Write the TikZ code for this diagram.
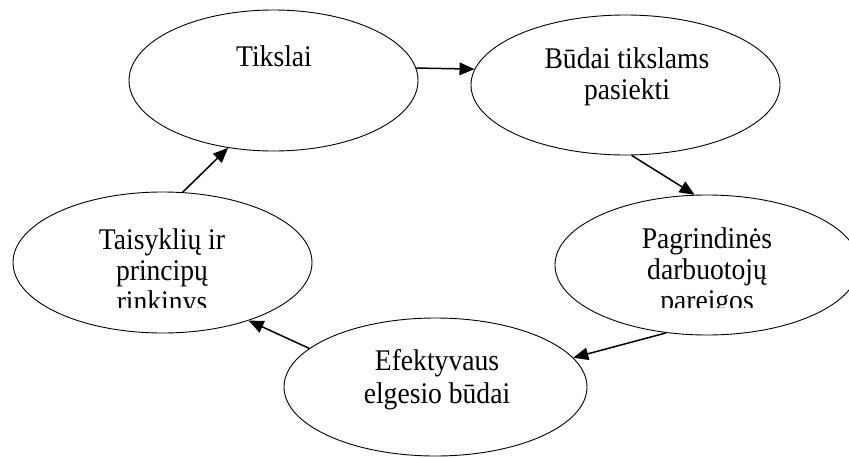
\documentclass[tikz,border=0pt]{standalone}
\usepackage{fontspec}
\setmainfont{Liberation Serif}[FakeStretch=0.92]
\usetikzlibrary{shapes.geometric,arrows.meta}
\begin{document}
\begin{tikzpicture}[x=1pt,y=-1pt,
  oval/.style n args={2}{draw, ellipse, line width=0.9pt, inner sep=0pt, minimum width=#1, minimum height=#2},
  lbl/.style={anchor=base, inner sep=0pt, font=\fontsize{30}{31}\selectfont},
  arr/.style={-{Triangle[length=15pt,width=12.5pt]}, line width=1.5pt}]
\useasboundingbox (0,0) rectangle (849,458);
\clip (0,0) rectangle (849,458);
\fill[white] (0,0) rectangle (849,458);
% ellipses
\node[oval={289pt}{141pt}] (t) at (273.5,80.5) {};
\node[oval={309pt}{140pt}] (b) at (625.5,85) {};
\node[oval={304pt}{140pt}] (p) at (707,265) {};
\node[oval={303pt}{138pt}] (e) at (435.5,387) {};
\node[oval={299pt}{141pt}] (r) at (162.5,262.5) {};
% texts
\node[lbl] (tt) at (274,66) {Tikslai};
\node[lbl] (bt) at (627,68) {\begin{tabular}[t]{@{}c@{}}Būdai tikslams\\pasiekti\end{tabular}};
\node[lbl, font=\fontsize{30}{33}\selectfont] (et) at (437,370) {\begin{tabular}[t]{@{}c@{}}Efektyvaus\\elgesio būdai\end{tabular}};
\begin{scope}
\clip (0,0) rectangle (849,307);
\node[lbl] (pt) at (707,248) {\begin{tabular}[t]{@{}c@{}}Pagrindinės\\darbuotojų\\pareigos\end{tabular}};
\node[lbl] (rt) at (162,249) {\begin{tabular}[t]{@{}c@{}}Taisyklių ir\\principų\\rinkinys\end{tabular}};
\end{scope}
% connectors
\draw[arr] (t.5) -- (b.174);
\draw[arr] (b.275) -- (p.100);
\draw[arr] (p.239) -- (e.12);
\draw[arr] (e.163) -- (r.326);
\draw[arr] (r.74) -- (t.236);
\end{tikzpicture}
\end{document}
